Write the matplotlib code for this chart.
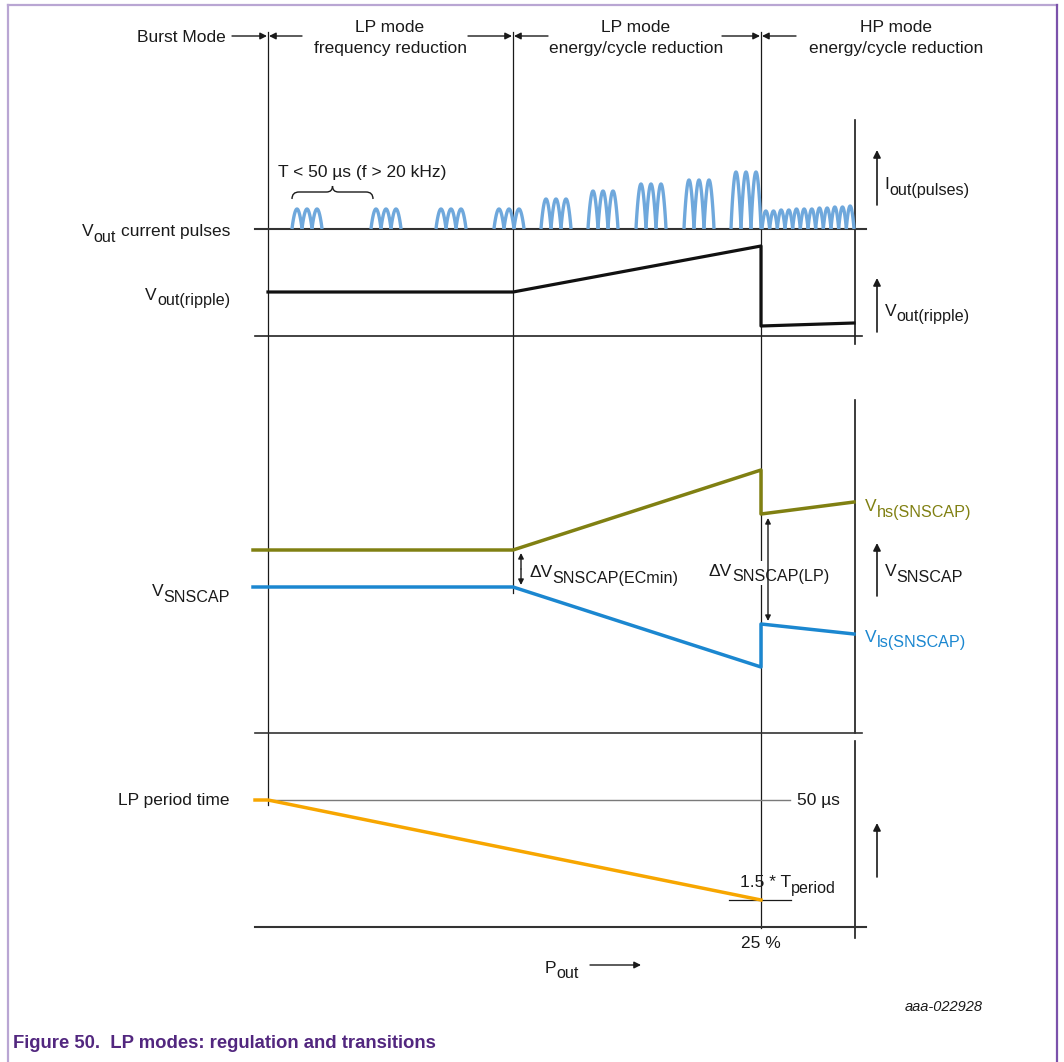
import numpy as np
import matplotlib
matplotlib.use('Agg')
import matplotlib.pyplot as plt
from matplotlib.path import Path
from matplotlib.patches import PathPatch, Rectangle

plt.rcParams['font.family'] = ['Liberation Sans', 'DejaVu Sans']

W, H = 1064, 1062

# ---------------- data (diagram units) ----------------
mode_bounds = [268, 513, 761]
bound_bottoms = [805, 593, 928]
header_top = ['LP mode', 'LP mode', 'HP mode']
header_bottom = ['frequency reduction', 'energy/cycle reduction', 'energy/cycle reduction']
header_x = [390, 636, 896]

pulse_base = 229
lpf_starts = [292, 371, 436, 494]
lpf_heights = [20, 20, 20, 20]
lpe_starts = [541, 588, 636, 684, 731]
lpe_heights = [30, 38, 45, 49, 57]
group_width = 30
hp_start, hp_end = 762, 854
hp_heights = [18, 18, 19, 19, 20, 20, 20, 21, 21, 22, 22, 23]

ripple_x = [268, 513, 761, 761, 854]
ripple_y = [292, 292, 246, 326, 323]

vhs_x = [253, 513, 761, 761, 854]
vhs_y = [550, 550, 470, 514, 502]
vls_x = [253, 513, 761, 761, 854]
vls_y = [587, 587, 667, 624, 634]

period_x = [255, 268, 761]
period_y = [800, 800, 900]
period_max_y = 800
period_min_y = 900

baselines_y = [229, 336, 733, 927]
right_x = 855
right_segments = [(120, 344), (400, 733), (741, 938)]

right_arrow_y = [(205, 150), (332, 278), (596, 543), (877, 823)]

TXT = '#1a1a1a'
COL_OLIVE = '#808012'
COL_BLUE = '#1b87d0'
COL_ORANGE = '#f7a600'
COL_PULSE = '#6fa8dc'
COL_PURPLE = '#52277f'

# ---------------- figure ----------------
fig = plt.figure(figsize=(W / 100, H / 100), dpi=100)
ax = fig.add_axes([0, 0, 1, 1])
ax.set_xlim(0, W)
ax.set_ylim(H, 0)
ax.axis('off')
renderer = fig.canvas.get_renderer()

FS = 12.5
SFS = 11.6
SPACE = 0.278 * FS * 100 / 72


def tw(s, fs):
    t = ax.text(0, 0, s, fontsize=fs)
    w = t.get_window_extent(renderer).width
    t.remove()
    return w


def label(x, yb, parts, ha='left', color=TXT, drop=5.5, box=False):
    """parts: list of (text, is_sub); a leading space in text means a space gap."""
    items = []
    for s, sub in parts:
        gap = 0
        if s.startswith(' '):
            gap = SPACE
            s = s.lstrip(' ')
        fs = SFS if sub else FS
        items.append((s, sub, fs, gap, tw(s, fs)))
    total = sum(g + w for _, _, _, g, w in items)
    if ha == 'right':
        x0 = x - total
    elif ha == 'center':
        x0 = x - total / 2
    else:
        x0 = x
    if box:
        ax.add_patch(Rectangle((x0 - 2, yb - 15), total + 4, 24, facecolor='white',
                               edgecolor='none', zorder=5))
    for s, sub, fs, gap, w in items:
        x0 += gap
        ax.text(x0, yb + (drop if sub else 0), s, fontsize=fs, ha='left',
                va='baseline', color=color, zorder=6)
        x0 += w


# frame
ax.plot([8, 8], [5, H], color='#b9a6d3', lw=1.6)
ax.plot([8, 1057], [5, 5], color='#b9a6d3', lw=1.6)
ax.plot([1057, 1057], [5, H], color='#7b52ab', lw=1.6)

# vertical mode boundaries
for x, yb in zip(mode_bounds, bound_bottoms):
    ax.plot([x, x], [32, yb], color=TXT, lw=0.9, zorder=2)

# right vertical lines
for y0, y1 in right_segments:
    ax.plot([right_x, right_x], [y0, y1], color=TXT, lw=1.2)

# baselines
ax.plot([255, 866], [baselines_y[0], baselines_y[0]], color='#333333', lw=1.5)
ax.plot([255, 862], [baselines_y[1], baselines_y[1]], color='#222222', lw=1.2)
ax.plot([255, 862], [baselines_y[2], baselines_y[2]], color='#333333', lw=1.2)
ax.plot([255, 866], [baselines_y[3], baselines_y[3]], color='#333333', lw=1.5)

# header
ax.text(226, 37, 'Burst Mode', ha='right', va='center', fontsize=FS, color=TXT)
for t1, t2, x in zip(header_top, header_bottom, header_x):
    ax.text(x, 27, t1, ha='center', va='center', fontsize=FS, color=TXT)
    ax.text(x, 48, t2, ha='center', va='center', fontsize=FS, color=TXT)


def arrow(x0, y0, x1, y1, style='-|>', ms=10, lw=1.0):
    ax.annotate('', xy=(x1, y1), xytext=(x0, y0),
                arrowprops=dict(arrowstyle=style, color=TXT, lw=lw,
                                shrinkA=0, shrinkB=0, mutation_scale=ms), zorder=7)


for (x0, x1) in [(232, 267), (302, 269), (468, 512), (548, 514), (722, 760), (796, 762)]:
    arrow(x0, 36, x1, 36)


# pulses
def draw_group(start, width, n, heights):
    aw = width / n
    for k in range(n):
        t = np.linspace(0, 1, 40)
        xs = start + k * aw + t * aw
        h = heights[k] if np.ndim(heights) else heights
        ys = pulse_base - h * np.sin(np.pi * t) ** 0.85
        ax.plot(xs, ys, color=COL_PULSE, lw=2.4, solid_capstyle='butt', zorder=3)


for s, h in zip(lpf_starts, lpf_heights):
    draw_group(s, group_width, 3, h)
for s, h in zip(lpe_starts, lpe_heights):
    draw_group(s, group_width, 3, h)
draw_group(hp_start, hp_end - hp_start, len(hp_heights), hp_heights)

# brace for T < 50 us
ax.text(278, 173, 'T < 50 µs (f > 20 kHz)', ha='left', va='center', fontsize=FS, color=TXT)
bx0, bx1, by = 292, 373, 192
bm = (bx0 + bx1) / 2
codes = [Path.MOVETO, Path.CURVE3, Path.CURVE3, Path.LINETO, Path.CURVE3, Path.CURVE3]
vl = [(bx0, by + 7), (bx0, by), (bx0 + 7, by), (bm - 6, by), (bm, by), (bm, by - 6)]
vr = [(bx1, by + 7), (bx1, by), (bx1 - 7, by), (bm + 6, by), (bm, by), (bm, by - 6)]
ax.add_patch(PathPatch(Path(vl, codes), fill=False, lw=1.0, edgecolor=TXT))
ax.add_patch(PathPatch(Path(vr, codes), fill=False, lw=1.0, edgecolor=TXT))

# ripple
ax.plot(ripple_x, ripple_y, color='#111111', lw=2.3, zorder=4)

# SNSCAP thresholds
ax.plot(vhs_x, vhs_y, color=COL_OLIVE, lw=2.5, zorder=4)
ax.plot(vls_x, vls_y, color=COL_BLUE, lw=2.5, zorder=4)
label(865, 511, [('V', 0), ('hs(SNSCAP)', 1)], color=COL_OLIVE)
label(865, 642, [('V', 0), ('ls(SNSCAP)', 1)], color=COL_BLUE)

# delta V annotations
arrow(521, 569, 521, 553, ms=8)
arrow(521, 569, 521, 585, ms=8)
label(529, 577, [('ΔV', 0), ('SNSCAP(ECmin)', 1)])
arrow(768, 570, 768, 518, ms=8)
arrow(768, 570, 768, 621, ms=8)
label(769, 576, [('ΔV', 0), ('SNSCAP(LP)', 1)], ha='center', box=True)

# LP period
ax.plot([268, 790], [period_max_y, period_max_y], color='#7a7a7a', lw=1.0)
ax.plot([729, 791], [period_min_y, period_min_y], color=TXT, lw=0.9)
ax.plot(period_x, period_y, color=COL_ORANGE, lw=2.5, zorder=4)
ax.text(797, 800, '50 µs', ha='left', va='center', fontsize=FS, color=TXT)
label(740, 887, [('1.5 * T', 0), ('period', 1)])
ax.text(761, 943, '25 %', ha='center', va='center', fontsize=FS, color=TXT)

# left labels
label(230, 236, [('V', 0), ('out', 1), (' current pulses', 0)], ha='right')
label(230, 300, [('V', 0), ('out(ripple)', 1)], ha='right')
label(230, 596, [('V', 0), ('SNSCAP', 1)], ha='right')
ax.text(230, 800, 'LP period time', ha='right', va='center', fontsize=FS, color=TXT)

# right arrows and labels
for (y0, y1) in right_arrow_y:
    arrow(877, y0, 877, y1, ms=11, lw=1.2)
label(884, 189, [('I', 0), ('out(pulses)', 1)])
label(885, 316, [('V', 0), ('out(ripple)', 1)])
label(885, 576, [('V', 0), ('SNSCAP', 1)])

# Pout axis
label(545, 973, [('P', 0), ('out', 1)])
arrow(590, 965, 641, 965, ms=10)

# footer
ax.text(983, 1007, 'aaa-022928', ha='right', va='center', fontsize=10.5, style='italic', color=TXT)
ax.text(13, 1043, 'Figure 50.  LP modes: regulation and transitions', ha='left', va='center',
        fontsize=13.3, fontweight='bold', color=COL_PURPLE)

fig.savefig('out.png', dpi=100)
